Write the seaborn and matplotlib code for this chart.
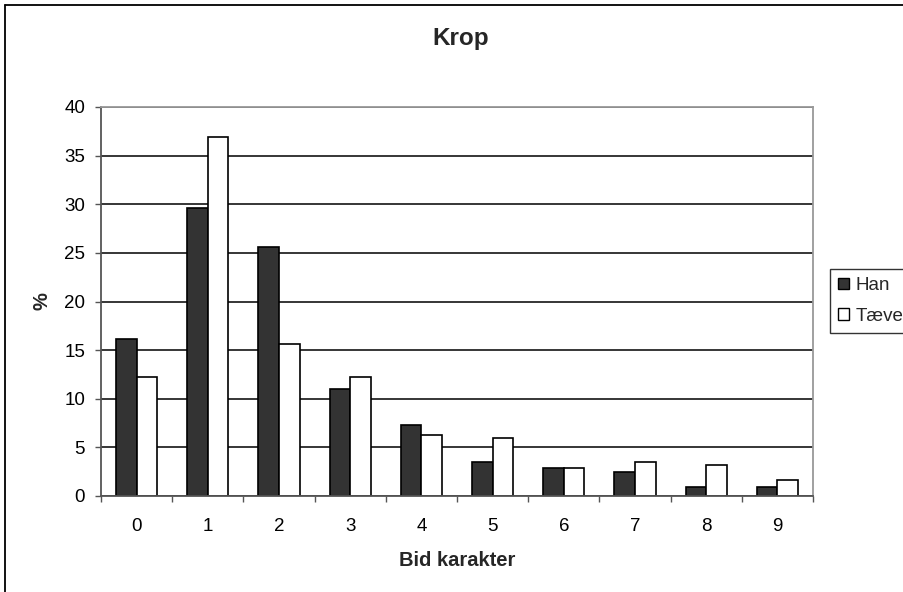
import matplotlib
matplotlib.use("Agg")
import matplotlib.pyplot as plt
import seaborn as sns
import pandas as pd
from matplotlib.patches import Patch
from matplotlib.lines import Line2D
from matplotlib.ticker import FixedLocator

# Data: share (%) of dogs per bite score, by sex
karakterer = ["0", "1", "2", "3", "4", "5", "6", "7", "8", "9"]
han = [16.1, 29.6, 25.6, 11.0, 7.3, 3.5, 2.85, 2.5, 0.95, 0.95]
taeve = [12.2, 36.9, 15.6, 12.2, 6.3, 6.0, 2.85, 3.45, 3.15, 1.6]
serier = ["Han", "Tæve"]
farver = {"Han": "#333333", "Tæve": "#ffffff"}

df = pd.DataFrame({
    "karakter": karakterer * 2,
    "pct": han + taeve,
    "køn": [serier[0]] * len(han) + [serier[1]] * len(taeve),
})

sns.set_theme(style="white")
plt.rcParams["font.family"] = ["Liberation Sans", "DejaVu Sans"]

W, H = 904, 592
fig = plt.figure(figsize=(W / 100, H / 100), dpi=100)
fig.patch.set_facecolor("white")

# plot area in pixel terms
x0, x1, y0, y1 = 101, 813, 107, 496
ax = fig.add_axes([x0 / W, 1 - y1 / H, (x1 - x0) / W, (y1 - y0) / H])

sns.barplot(data=df, x="karakter", y="pct", hue="køn", order=karakterer,
            hue_order=serier, palette=farver, edgecolor="black", linewidth=1.2,
            width=0.58, gap=0, saturation=1, legend=False, ax=ax)

ax.set_xlim(-0.5, len(karakterer) - 0.5)
ax.set_ylim(0, 40)
ax.set_yticks(range(0, 41, 5))
ax.set_xlabel("")
ax.set_ylabel("")

ax.set_axisbelow(True)
ax.yaxis.grid(True, color="black", linewidth=1.1)
ax.xaxis.grid(False)
for side, col in [("left", "#555555"), ("bottom", "#555555"),
                  ("right", "#999999"), ("top", "#999999")]:
    ax.spines[side].set_visible(True)
    ax.spines[side].set_color(col)
    ax.spines[side].set_linewidth(1.3)

ax.tick_params(axis="y", which="major", direction="out", length=4.5, width=1,
               color="#555555", labelsize=13.5, pad=7, left=True, labelcolor="black")
ax.tick_params(axis="x", which="major", length=0, labelsize=13.5, pad=16,
               labelcolor="black")
ax.xaxis.set_minor_locator(FixedLocator([i - 0.5 for i in range(len(karakterer) + 1)]))
ax.tick_params(axis="x", which="minor", direction="out", length=4.5, width=1,
               color="#555555", bottom=True)

# titles
fig.text(461 / W, 1 - 45 / H, "Krop", ha="center", va="baseline",
         fontsize=17.5, fontweight="bold")
fig.text(457 / W, 1 - 566 / H, "Bid karakter", ha="center", va="baseline",
         fontsize=14.5, fontweight="bold")
fig.text(42 / W, 1 - 301 / H, "%", ha="center", va="center", rotation=90,
         fontsize=14.5, fontweight="bold")

# legend
handles = [Patch(facecolor=farver[s], edgecolor="black", linewidth=1) for s in serier]
leg = fig.legend(handles, serier, loc="upper left",
                 bbox_to_anchor=(830 / W, 1 - 269 / H), fontsize=13.5,
                 frameon=True, fancybox=False, shadow=False,
                 handlelength=0.55, handleheight=0.55, handletextpad=0.35,
                 borderpad=0.45, labelspacing=0.7, borderaxespad=0)
leg.get_frame().set_edgecolor("black")
leg.get_frame().set_linewidth(1)

# chart border (top and left edges visible)
fig.add_artist(Line2D([5 / W, 5 / W], [1 - 5 / H, -0.1], transform=fig.transFigure,
                      color="black", linewidth=1.3))
fig.add_artist(Line2D([5 / W, 1.1], [1 - 5 / H, 1 - 5 / H], transform=fig.transFigure,
                      color="black", linewidth=1.3))

fig.savefig("out.png", dpi=100, facecolor="white")
